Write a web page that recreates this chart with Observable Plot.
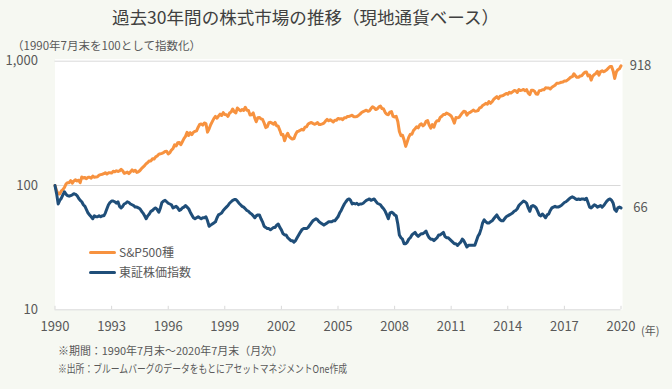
<!DOCTYPE html>
<html><head><meta charset="utf-8">
<script src="https://cdn.jsdelivr.net/npm/d3@7"></script>
<script src="https://cdn.jsdelivr.net/npm/@observablehq/plot@0.6"></script>
<style>
html,body{margin:0;padding:0;background:#f6f8f2;}
#wrap{position:relative;width:672px;height:389px;overflow:hidden;background:#f6f8f2;font-family:"Noto Sans CJK JP","Noto Sans",sans-serif;color:#595959;}
#wrap svg{position:absolute;left:0;top:0;}
.t{position:absolute;white-space:nowrap;line-height:1;transform-origin:0 50%;}
.lg{position:absolute;height:3px;width:27px;border-radius:1.5px;}
</style></head><body><div id="wrap"></div>
<script>
const titleText = "過去30年間の株式市場の推移（現地通貨ベース）";
const subtitleText = "（1990年7月末を100として指数化）";
const notes = ["※期間：1990年7月末～2020年7月末（月次）", "※出所：ブルームバーグのデータをもとにアセットマネジメントOne作成"];
const yearUnit = "(年)";
const seriesNames = ["S&P500種", "東証株価指数"];
const colors = ["#f7923f", "#1f4e79"];
const tickYears = [1990, 1993, 1996, 1999, 2002, 2005, 2008, 2011, 2014, 2017, 2020];
const yTicks = [10, 100, 1000];

// S&P500 index, 1990-07 = 100 (monthly, Jul 1990 .. Jul 2020)
const sp500 = [
  100, 90.6, 85.9, 85.4, 90.5, 92.7,
  96.6, 103.1, 105.4, 105.4, 109.5, 104.2, 108.9, 111.0, 108.9, 110.2, 105.4, 117.1,
  114.8, 115.9, 113.3, 116.5, 116.6, 114.6, 119.1, 116.3, 117.3, 117.6, 121.1, 122.3,
  123.2, 124.5, 126.8, 123.6, 126.4, 126.5, 125.8, 130.2, 128.9, 131.4, 129.7, 131.0,
  135.2, 131.2, 125.2, 126.6, 128.2, 124.7, 128.7, 133.5, 129.9, 132.6, 127.4, 129.0,
  132.1, 136.9, 140.6, 144.5, 149.8, 153.0, 157.8, 157.8, 164.1, 163.3, 170.0, 172.9,
  178.6, 179.8, 181.2, 183.7, 187.9, 188.3, 179.7, 183.1, 193.0, 198.0, 212.6, 208.0,
  220.7, 222.0, 212.6, 225.0, 238.2, 248.5, 268.0, 252.6, 266.0, 256.8, 268.3, 272.5,
  275.2, 294.6, 309.4, 312.2, 306.3, 318.4, 314.7, 268.8, 285.6, 308.5, 326.7, 345.1,
  359.3, 347.7, 361.2, 374.9, 365.5, 385.4, 373.1, 370.7, 360.2, 382.7, 390.0, 412.5,
  391.5, 383.7, 420.8, 407.8, 398.9, 408.4, 401.8, 426.1, 403.3, 401.3, 369.2, 370.7,
  383.6, 348.2, 325.8, 350.8, 352.6, 343.8, 340.1, 318.3, 292.3, 297.6, 319.9, 322.4,
  317.3, 310.8, 322.2, 302.4, 299.6, 277.9, 256.0, 257.2, 228.9, 248.7, 262.9, 247.0,
  240.3, 236.2, 238.2, 257.5, 270.6, 273.6, 278.1, 283.0, 279.6, 295.0, 297.1, 312.2,
  317.6, 321.5, 316.2, 310.9, 314.7, 320.3, 309.3, 310.0, 313.0, 317.3, 329.6, 340.3,
  331.7, 337.9, 331.5, 324.8, 334.6, 334.5, 346.5, 342.6, 345.0, 338.9, 350.8, 350.5,
  359.4, 359.6, 363.6, 368.0, 356.6, 356.6, 358.5, 366.1, 375.1, 386.9, 393.3, 398.2,
  403.8, 395.0, 398.9, 416.2, 429.8, 422.1, 408.6, 413.9, 428.7, 435.0, 415.9, 412.3,
  387.1, 373.6, 371.4, 389.0, 393.2, 359.4, 355.9, 360.2, 327.5, 272.0, 251.6, 253.6,
  231.9, 206.4, 224.0, 245.1, 258.1, 258.1, 277.3, 286.6, 296.8, 290.9, 307.6, 313.1,
  301.5, 310.1, 328.4, 333.2, 305.9, 289.4, 309.3, 294.6, 320.4, 332.2, 331.5, 353.1,
  361.1, 372.7, 372.3, 382.9, 377.7, 370.8, 362.8, 342.2, 317.7, 351.9, 350.1, 353.1,
  368.5, 383.5, 395.5, 392.5, 367.9, 382.5, 387.3, 394.9, 404.5, 396.5, 397.6, 400.4,
  420.6, 425.3, 440.6, 448.6, 457.9, 451.0, 473.3, 458.5, 472.1, 493.2, 507.0, 519.0,
  500.5, 522.1, 525.7, 529.0, 540.1, 550.4, 542.1, 562.5, 553.8, 566.6, 580.5, 578.1,
  560.2, 590.9, 580.6, 585.6, 591.7, 579.3, 590.7, 553.8, 539.1, 583.8, 584.1, 573.9,
  544.8, 542.5, 578.3, 579.9, 588.8, 589.3, 610.3, 609.6, 608.8, 597.0, 617.4, 628.6,
  639.9, 663.7, 663.4, 669.4, 677.2, 680.4, 693.6, 694.0, 707.4, 723.1, 743.4, 750.7,
  792.9, 762.0, 741.5, 743.5, 759.6, 763.3, 790.8, 814.7, 818.2, 761.4, 775.0, 703.9,
  759.3, 781.8, 795.8, 827.1, 772.7, 826.0, 836.8, 821.7, 835.8, 852.9, 881.9, 907.1,
  905.7, 829.5, 725.7, 817.8, 854.8, 870.5, 918.4
];

// TOPIX index, 1990-07 = 100 (monthly, Jul 1990 .. Jul 2020)
const topix = [
  100, 86, 71, 76, 79, 84,
  89, 85, 83, 82, 83, 84, 86, 85, 83, 79, 76, 74,
  70, 68, 64, 60, 58, 56, 54, 57, 56, 56, 57, 56,
  57, 57, 60, 65, 70, 73, 75, 75, 74, 72, 74, 68,
  66, 68, 71, 72, 74, 73, 71, 70, 69, 67, 67, 66,
  65, 62, 60, 57, 54, 57, 59, 62, 63, 65, 66, 64,
  61, 66, 73, 75, 76, 74, 72, 71, 70, 66, 67, 68,
  66, 63, 64, 66, 67, 69, 67, 65, 61, 58, 55, 54,
  55, 56, 55, 54, 55, 55, 56, 52, 47, 48, 49, 50,
  51, 55, 58, 59, 60, 63, 65, 67, 69, 72, 74, 76,
  77, 77, 75, 72, 70, 68, 67, 65, 63, 62, 60, 59,
  57, 55, 57, 58, 58, 54, 51, 47, 46, 45, 45, 44,
  45, 46, 46, 48, 49, 46, 44, 41, 40, 40, 38, 37,
  36, 36, 35, 36, 38, 40, 42, 44, 45, 45, 45, 46,
  48, 50, 52, 53, 54, 53, 51, 50, 49, 48, 49, 50,
  51, 51, 51, 52, 52, 54, 56, 60, 63, 67, 71, 74,
  77, 78, 76, 71, 72, 71, 72, 70, 71, 71, 72, 74,
  76, 77, 78, 76, 77, 78, 75, 72, 71, 70, 67, 65,
  62, 58, 54, 60, 61, 60, 58, 57, 49, 40, 38, 37,
  34, 34, 35, 37, 38, 40, 41, 42, 40, 39, 40, 41,
  41, 42, 43, 40, 38, 37, 37, 36, 37, 38, 40, 40,
  41, 42, 39, 38, 38, 37, 36, 35, 34, 34, 33, 34,
  35, 37, 36, 34, 32, 33, 33, 33, 33, 33, 36, 39,
  41, 45, 50, 53, 51, 50, 50, 51, 52, 54, 56, 58,
  55, 53, 52, 52, 54, 56, 57, 58, 59, 60, 62, 63,
  65, 69, 71, 73, 75, 74, 72, 66, 62, 68, 69, 68,
  66, 62, 58, 57, 59, 57, 55, 58, 59, 63, 66, 67,
  68, 67, 67, 68, 69, 71, 73, 74, 76, 78, 80, 81,
  80, 78, 77, 78, 77, 78, 78, 77, 79, 73, 67, 66,
  68, 70, 69, 67, 68, 69, 67, 69, 72, 75, 77, 78,
  76, 72, 64, 62, 66, 67, 66
];

const months = d3.utcMonth.range(new Date(Date.UTC(1990, 6, 1)), new Date(Date.UTC(2020, 7, 1)));
const rows = [];
[sp500, topix].forEach((arr, s) => arr.forEach((v, i) => rows.push({date: months[i], value: v, series: seriesNames[s]})));
const xTicks = tickYears.map(y => new Date(Date.UTC(y, 6, 1)));

const W = 672, H = 389, mL = 54.5, mR = 51.5, mT = 60.7, mB = 79.7;
const innerH = H - mT - mB;

const chart = Plot.plot({
  width: W, height: H,
  marginLeft: mL, marginRight: mR, marginTop: mT, marginBottom: mB,
  style: {background: "transparent", fontFamily: '"Noto Sans CJK JP","Noto Sans",sans-serif', color: "#595959", overflow: "visible"},
  x: {type: "utc", domain: [months[0], months[months.length - 1]], label: null},
  y: {type: "log", domain: [10, 1000], label: null},
  color: {domain: seriesNames, range: colors},
  marks: [
    Plot.frame({fill: "white", stroke: "none", insetTop: -2, insetRight: -1.5}),
    Plot.ruleY(yTicks, {stroke: "#d9d9d9", strokeWidth: 1}),
    Plot.tickX(xTicks, {x: d => d, stroke: "#d9d9d9", insetTop: innerH - 3.5}),
    Plot.axisY({ticks: yTicks, tickSize: 0, tickPadding: 17, tickFormat: d3.format(","), fontSize: 13, fill: "#595959", label: null}),
    Plot.axisX({ticks: xTicks, tickSize: 0, tickPadding: 12, tickFormat: d => String(d.getUTCFullYear()), fontSize: 13, fill: "#595959", label: null}),
    Plot.line(rows, {x: "date", y: "value", z: "series", stroke: "series", strokeWidth: 3, strokeLinejoin: "round"}),
    Plot.text(rows, Plot.selectLast({x: "date", y: "value", z: "series", text: d => String(Math.round(d.value)), dx: 19.5, fontSize: 13, fill: "#595959", textAnchor: "middle"}))
  ]
});

const wrap = document.getElementById("wrap");
wrap.appendChild(chart);

function addText(txt, left, top, size, extra, targetWidth) {
  const el = document.createElement("div");
  el.className = "t";
  el.textContent = txt;
  el.style.left = left + "px";
  el.style.top = top + "px";
  el.style.fontSize = size + "px";
  if (extra) Object.assign(el.style, extra);
  wrap.appendChild(el);
  if (targetWidth) {
    const w = el.getBoundingClientRect().width;
    if (w > 0) el.style.transform = "scaleX(" + (targetWidth / w) + ")";
  }
  return el;
}
addText(titleText, 112, 8.2, 17.5, {color: "#404040"}, 387);
addText(subtitleText, 12, 39.6, 11.5, null, 189);
addText(yearUnit, 641, 324.8, 11);
addText(notes[0], 58, 344.8, 11, null, 225);
addText(notes[1], 58, 362.8, 11, null, 289);
seriesNames.forEach((name, i) => {
  const cy = 252.7 + i * 20;
  const ln = document.createElement("div");
  ln.className = "lg";
  ln.style.left = "89px";
  ln.style.top = (cy - 1.5) + "px";
  ln.style.background = colors[i];
  wrap.appendChild(ln);
  addText(name, 119, cy - 6.7, 12);
});
</script></body></html>
